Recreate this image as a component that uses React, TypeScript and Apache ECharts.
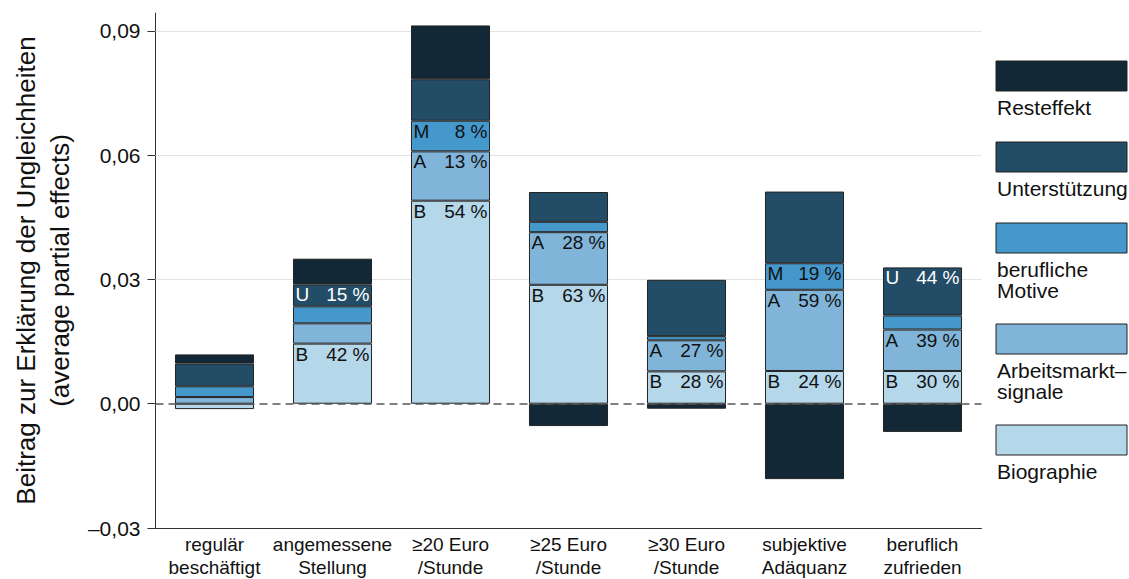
import React, { useEffect, useRef } from "react";
import * as echarts from "echarts";

const categories = [
  "regulär\nbeschäftigt",
  "angemessene\nStellung",
  "≥20 Euro\n/Stunde",
  "≥25 Euro\n/Stunde",
  "≥30 Euro\n/Stunde",
  "subjektive\nAdäquanz",
  "beruflich\nzufrieden",
];

const seriesNames = ["Biographie", "Arbeitsmarktsignale", "berufliche Motive", "Unterstützung", "Resteffekt"];
const legendLabels = ["Resteffekt", "Unterstützung", "berufliche\nMotive", "Arbeitsmarkt–\nsignale", "Biographie"];
const seriesLetters = ["B", "A", "M", "U", ""];
const seriesColors = ["#b4d7ea", "#80b5d9", "#4598cb", "#234c67", "#132836"];
const labelColors = ["#111", "#111", "#111", "#fff", "#fff"];

const biographie = [-0.0013, 0.0145, 0.049, 0.0287, 0.0078, 0.0079, 0.0079];
const arbeitsmarkt = [0.0016, 0.0049, 0.0119, 0.0127, 0.0075, 0.0196, 0.01];
const motive = [0.0026, 0.0041, 0.0074, 0.0025, 0.001, 0.0064, 0.0034];
const unterstuetzung = [0.0055, 0.0053, 0.01, 0.0072, 0.0136, 0.0173, 0.0116];
const resteffekt = [0.0022, 0.0062, 0.013, -0.0054, -0.0012, -0.0182, -0.0068];

const pctBiographie = [null, 42, 54, 63, 28, 24, 30];
const pctArbeitsmarkt = [null, null, 13, 28, 27, 59, 39];
const pctMotive = [null, null, 8, null, null, 19, null];
const pctUnterstuetzung = [null, 15, null, null, null, null, 44];
const pctResteffekt = [null, null, null, null, null, null, null];

const yTicks = [-0.03, 0, 0.03, 0.06, 0.09];
const gridValues = [0.03, 0.06, 0.09];

const FONT = "'Liberation Sans', Arial, Helvetica, sans-serif";

export default function App() {
  const ref = useRef<HTMLDivElement>(null);
  useEffect(() => {
    document.body.style.margin = "0";
    if (!ref.current) return;
    const chart = echarts.init(ref.current, null, { renderer: "svg" });
    const values = [biographie, arbeitsmarkt, motive, unterstuetzung, resteffekt];
    const pcts = [pctBiographie, pctArbeitsmarkt, pctMotive, pctUnterstuetzung, pctResteffekt];

    const series: any[] = values.map((vals, si) => ({
      name: seriesNames[si],
      type: "bar",
      stack: "total",
      barWidth: "67%",
      itemStyle: { color: seriesColors[si], borderColor: "#222", borderWidth: 1 },
      label: {
        show: false,
        position: "insideTop",
        distance: 1,
        color: labelColors[si],
        fontFamily: FONT,
        fontSize: 19,
        rich: {
          l: { width: 37, align: "left", fontSize: 19, lineHeight: 19, color: labelColors[si], fontFamily: FONT },
          r: { width: 37, align: "right", fontSize: 19, lineHeight: 19, color: labelColors[si], fontFamily: FONT },
        },
      },
      data: vals.map((v, i) => {
        const p = pcts[si][i];
        return p != null
          ? { value: v, label: { show: true, formatter: `{l|${seriesLetters[si]}}{r|${p} %}` } }
          : { value: v };
      }),
      markLine:
        si === 0
          ? {
              silent: true,
              symbol: "none",
              z: 1,
              label: { show: false },
              lineStyle: { color: "#e3e3e3", width: 1, type: "solid" },
              data: gridValues.map((g) => ({ yAxis: g })),
            }
          : si === 4
          ? {
              silent: true,
              symbol: "none",
              z: 10,
              label: { show: false },
              lineStyle: { color: "#555", width: 1.5, type: [8, 5] },
              data: [{ yAxis: 0 }],
            }
          : undefined,
    }));

    const graphics: any[] = [];
    let y = 61;
    legendLabels.forEach((lab, k) => {
      const si = seriesNames.length - 1 - k;
      const lines = lab.split("\n").length;
      graphics.push({
        type: "rect",
        shape: { x: 996, y: y, width: 131, height: 30 },
        style: { fill: seriesColors[si], stroke: "#222", lineWidth: 1 },
      });
      graphics.push({
        type: "text",
        x: 997,
        y: y + 36,
        style: { text: lab, fontSize: 21, lineHeight: 21, fontFamily: FONT, fill: "#111", textVerticalAlign: "top" },
      });
      y += 81 + 20 * (lines - 1);
    });

    const isTick = (v: number) => yTicks.some((t) => Math.abs(t - v) < 1e-6);

    chart.setOption({
      animation: false,
      grid: { left: 155.5, right: 147.5, top: 13, bottom: 48 },
      xAxis: {
        type: "category",
        data: categories,
        axisLine: { onZero: false, lineStyle: { color: "#333", width: 1 } },
        axisTick: { show: false },
        axisLabel: { fontSize: 19, lineHeight: 23, color: "#111", fontFamily: FONT, margin: 5, interval: 0 },
      },
      yAxis: {
        type: "value",
        min: -0.03,
        max: 0.0943,
        interval: 0.03,
        name: "Beitrag zur Erklärung der Ungleichheiten\n(average partial effects)",
        nameLocation: "middle",
        nameGap: 67,
        nameTextStyle: { fontSize: 26, lineHeight: 34, color: "#111", fontFamily: FONT },
        axisLine: { show: true, lineStyle: { color: "#333", width: 1 } },
        axisTick: { show: true, length: 8, customValues: yTicks, lineStyle: { color: "#333" } },
        splitLine: { show: false },
        axisLabel: {
          fontSize: 21,
          color: "#111",
          fontFamily: FONT,
          margin: 15,
          customValues: yTicks,
          formatter: (v: number) => (isTick(v) ? v.toFixed(2).replace(".", ",").replace("-", "–") : ""),
        },
      },
      series,
      graphic: graphics,
    });
    return () => chart.dispose();
  }, []);
  return <div ref={ref} style={{ width: 1129, height: 579 }} />;
}
